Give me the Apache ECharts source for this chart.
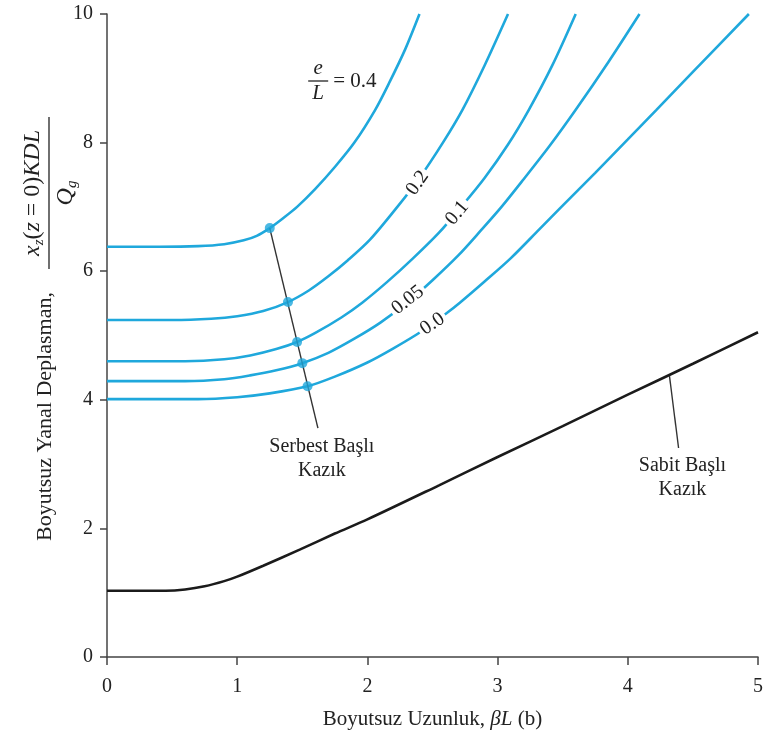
<!DOCTYPE html>
<html><head><meta charset="utf-8">
<script src="https://cdn.jsdelivr.net/npm/echarts@6/dist/echarts.min.js"></script>
<style>html,body{margin:0;padding:0;background:#fff}#c{width:766px;height:737px}</style>
</head><body><div id="c"></div>
<script>
// ---- data ----
const xTicks = [0, 1, 2, 3, 4, 5];
const yTicks = [0, 2, 4, 6, 8, 10];
const curveNames = ['0.4', '0.2', '0.1', '0.05', '0.0'];
const curve04 = [[0,6.38],[0.4,6.38],[0.7,6.39],[0.9,6.42],[1.05,6.48],[1.15,6.55],[1.25,6.67],[1.35,6.82],[1.46,7.0],[1.6,7.28],[1.75,7.62],[1.9,8.0],[2.06,8.51],[2.17,8.94],[2.29,9.45],[2.40,10.0]];
const curve02 = [[0,5.24],[0.5,5.24],[0.8,5.26],[1.0,5.30],[1.2,5.38],[1.39,5.52],[1.55,5.70],[1.7,5.92],[1.85,6.17],[2.02,6.49],[2.23,7.0],[2.4,7.45],[2.58,8.0],[2.73,8.51],[2.9,9.2],[3.08,10]];
const curve01 = [[0,4.60],[0.6,4.60],[0.9,4.63],[1.1,4.69],[1.3,4.79],[1.46,4.90],[1.6,5.04],[1.8,5.28],[1.96,5.51],[2.15,5.83],[2.35,6.2],[2.55,6.6],[2.72,7.0],[2.9,7.45],[3.08,7.97],[3.24,8.51],[3.42,9.2],[3.60,10]];
const curve005 = [[0,4.29],[0.6,4.29],[0.9,4.32],[1.1,4.38],[1.3,4.46],[1.50,4.57],[1.7,4.73],[1.9,4.95],[2.1,5.2],[2.31,5.52],[2.5,5.86],[2.7,6.25],[2.87,6.63],[3.03,7.0],[3.2,7.43],[3.4,7.95],[3.60,8.51],[3.85,9.25],[4.09,10]];
const curve00 = [[0,4.01],[0.7,4.01],[1.0,4.04],[1.25,4.10],[1.54,4.21],[1.75,4.36],[2.0,4.58],[2.2,4.80],[2.42,5.07],[2.61,5.35],[2.71,5.51],[2.9,5.84],[3.1,6.2],[3.32,6.65],[3.49,7.0],[3.75,7.53],[4.0,8.05],[4.22,8.51],[4.5,9.1],[4.93,10]];
const fixedHead = [[0,1.03],[0.45,1.03],[0.6,1.05],[0.75,1.1],[0.9,1.18],[1.0,1.25],[1.2,1.42],[1.48,1.67],[1.75,1.92],[2.0,2.14],[2.55,2.67],[3.0,3.11],[3.5,3.59],[4.0,4.08],[4.5,4.56],[5.0,5.05]];
const freeHeadDots = [[1.25,6.67],[1.39,5.52],[1.46,4.90],[1.50,4.57],[1.54,4.21]];
const freeLeader = [[1.25,6.67],[1.62,3.56]];
const fixedLeader = [[4.32,4.37],[4.39,3.25]];
const curveLabelPts = [[2.385,7.37],[2.69,6.905],[2.31,5.55],[2.50,5.18]];
const curveLabelTexts = ['0.2', '0.1', '0.05', '0.0'];
const freeHeadText = 'Serbest Başlı\nKazık';
const fixedHeadText = 'Sabit Başlı\nKazık';
const freeHeadTextPt = [1.65, 3.09];
const fixedHeadTextPt = [4.42, 2.78];
const eLAnchor = [1.622, 8.958];
const xTitle = 'Boyutsuz Uzunluk, {i|βL} (b)';
const yTitle = 'Boyutsuz Yanal Deplasman,';

// ---- styles ----
const CYAN = '#1fa8dc';
const FONT = '"Liberation Serif", "DejaVu Serif", serif';
const TXT = '#222';
const labelAngles = [55, 50, 38, 34];

const chart = echarts.init(document.getElementById('c'), null, {renderer: 'canvas'});
const curves = [curve04, curve02, curve01, curve005, curve00];

const series = [];
curves.forEach((c, i) => {
  series.push({
    name: curveNames[i], type: 'line', data: c, smooth: 0.3,
    showSymbol: false, symbol: 'none', z: 2,
    lineStyle: {color: CYAN, width: 2.6}
  });
});
series.push({
  name: 'fixed', type: 'line', data: fixedHead, smooth: 0.3,
  symbol: 'none', z: 2, lineStyle: {color: '#1b1b1b', width: 2.6}
});
series.push({type: 'line', data: freeLeader, symbol: 'none', z: 3, lineStyle: {color: '#333', width: 1.4}});
series.push({type: 'line', data: fixedLeader, symbol: 'none', z: 3, lineStyle: {color: '#333', width: 1.4}});
series.push({type: 'scatter', data: freeHeadDots, symbolSize: 10, z: 4, itemStyle: {color: CYAN}});

const axisLineStyle = {color: '#444', width: 1.5};
chart.setOption({
  animation: false,
  backgroundColor: '#fff',
  grid: {left: 107, right: 7, top: 14, bottom: 80, containLabel: false},
  xAxis: {
    type: 'value', min: xTicks[0], max: xTicks[xTicks.length - 1], interval: 1,
    splitLine: {show: false},
    axisLine: {show: true, lineStyle: axisLineStyle},
    axisTick: {show: true, length: 8, lineStyle: axisLineStyle},
    axisLabel: {margin: 20, fontFamily: FONT, fontSize: 20, color: TXT},
    name: xTitle, nameLocation: 'middle', nameGap: 52,
    nameTextStyle: {fontFamily: FONT, fontSize: 21, color: TXT, rich: {i: {fontFamily: FONT, fontSize: 21, fontStyle: 'italic', color: TXT}}}
  },
  yAxis: {
    type: 'value', min: yTicks[0], max: yTicks[yTicks.length - 1], interval: 2,
    splitLine: {show: false},
    axisLine: {show: true, lineStyle: axisLineStyle},
    axisTick: {show: true, length: 7, lineStyle: axisLineStyle},
    axisLabel: {margin: 14, fontFamily: FONT, fontSize: 20, color: TXT}
  },
  series: series
});

// annotations positioned from data coordinates
const toPx = (pt) => chart.convertToPixel({gridIndex: 0}, pt);
const p = toPx(eLAnchor);
const it = {fontFamily: FONT, fontSize: 21, fontStyle: 'italic', fill: TXT};
const graphics = [
  {type: 'text', x: p[0], y: p[1] - 2, style: Object.assign({text: 'e', align: 'center', verticalAlign: 'bottom'}, it)},
  {type: 'line', shape: {x1: p[0] - 10, y1: p[1], x2: p[0] + 10, y2: p[1]}, style: {stroke: TXT, lineWidth: 1.3}},
  {type: 'text', x: p[0], y: p[1] + 2, style: Object.assign({text: 'L', align: 'center', verticalAlign: 'top'}, it)},
  {type: 'text', x: p[0] + 15, y: p[1], style: {text: '= 0.4', align: 'left', verticalAlign: 'middle', fontFamily: FONT, fontSize: 21, fill: TXT}}
];
curveLabelPts.forEach((pt, i) => {
  const q = toPx(pt);
  graphics.push({
    type: 'text', x: q[0], y: q[1], rotation: labelAngles[i] * Math.PI / 180, z: 10,
    style: {text: curveLabelTexts[i], align: 'center', verticalAlign: 'middle', fontFamily: FONT, fontSize: 20,
      fill: TXT, backgroundColor: '#fff', padding: [0, 3]}
  });
});
[[freeHeadTextPt, freeHeadText], [fixedHeadTextPt, fixedHeadText]].forEach(([pt, t]) => {
  const q = toPx(pt);
  graphics.push({
    type: 'text', x: q[0], y: q[1], z: 10,
    style: {text: t, align: 'center', verticalAlign: 'middle', fontFamily: FONT, fontSize: 20, lineHeight: 24, fill: TXT}
  });
});
graphics.push({
  type: 'group', x: 45, y: 541, rotation: Math.PI / 2,
  children: [
    {type: 'text', x: 0, y: 0, style: {text: yTitle, align: 'left', verticalAlign: 'middle', fontFamily: FONT, fontSize: 22, fill: TXT}},
    {type: 'text', x: 348, y: -12, style: {
      text: '{i|x}{s|z}{n|(}{i|z}{n| = 0)}{i|KDL}', align: 'center', verticalAlign: 'middle',
      rich: {
        i: {fontFamily: FONT, fontSize: 24, fontStyle: 'italic', fill: TXT, lineHeight: 28, verticalAlign: 'middle'},
        n: {fontFamily: FONT, fontSize: 24, fill: TXT, lineHeight: 28, verticalAlign: 'middle'},
        s: {fontFamily: FONT, fontSize: 15, fontStyle: 'italic', fill: TXT, lineHeight: 28, verticalAlign: 'bottom'}
      }
    }},
    {type: 'line', shape: {x1: 272, y1: 4, x2: 424, y2: 4}, style: {stroke: TXT, lineWidth: 1.3}},
    {type: 'text', x: 348, y: 21, style: {
      text: '{i|Q}{s|g}', align: 'center', verticalAlign: 'middle',
      rich: {
        i: {fontFamily: FONT, fontSize: 24, fontStyle: 'italic', fill: TXT, lineHeight: 28, verticalAlign: 'middle'},
        s: {fontFamily: FONT, fontSize: 15, fontStyle: 'italic', fill: TXT, lineHeight: 28, verticalAlign: 'bottom'}
      }
    }}
  ]
});
chart.setOption({graphic: graphics});
</script>
</body></html>
